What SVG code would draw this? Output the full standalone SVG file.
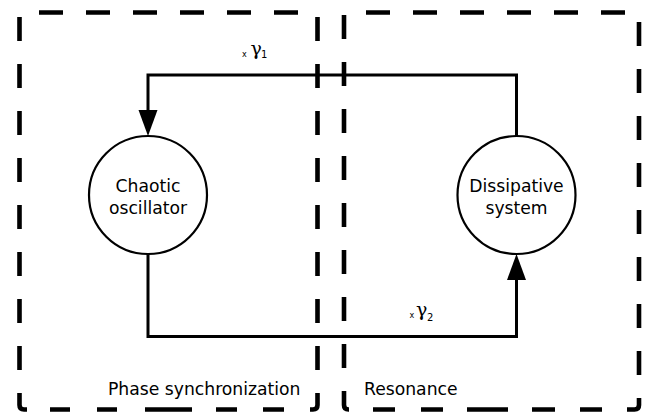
<svg xmlns="http://www.w3.org/2000/svg" width="645" height="417" viewBox="0 0 645 417">
<defs>
<style>
.box{fill:none;stroke:#000;stroke-width:4.6;stroke-linecap:butt}
.dh{stroke-dasharray:24 23}
.wire{fill:none;stroke:#000;stroke-width:3}
.node{fill:#fff;stroke:#000;stroke-width:2.2}
.lbl{font-family:"DejaVu Sans",sans-serif;font-size:17.2px;fill:#000}
.ctr{text-anchor:middle}
.g{font-family:"DejaVu Serif",serif;font-size:19px;fill:#000}
.sub{font-family:"DejaVu Sans",sans-serif;font-size:10px;fill:#000}
.x{font-family:"DejaVu Sans",sans-serif;font-size:8px;fill:#000}
</style>
</defs>
<rect width="645" height="417" fill="#fff"/>
<g id="region-phase-synchronization">
<line class="box dh" x1="19.5" y1="12.5" x2="318" y2="12.5" stroke-dashoffset="27.5"/>
<line class="box dh" x1="19.5" y1="12.5" x2="19.5" y2="393" stroke-dashoffset="42.5"/>
<line class="box dh" x1="317.5" y1="12.5" x2="317.5" y2="393" stroke-dashoffset="42.5"/>
<path class="box" d="M19.5,393 V405 Q19.5,409.5 24,409.5 H27"/>
<path class="box" d="M50,409.5 H70 M97,409.5 H117 M145,409.5 H192 M216,409.5 H237 M263,409.5 H284"/>
<path class="box" d="M310,409.5 H313 Q317.5,409.5 317.5,405 V393"/>
<text class="lbl" x="108" y="395">Phase synchronization</text>
</g>
<g id="region-resonance">
<line class="box dh" x1="344" y1="12.5" x2="639" y2="12.5" stroke-dashoffset="25"/>
<line class="box dh" x1="344" y1="12.5" x2="344" y2="391" stroke-dashoffset="44.5"/>
<line class="box dh" x1="639" y1="12.5" x2="639" y2="398" stroke-dashoffset="37.5"/>
<path class="box" d="M344,391 V405 Q344,409.5 348.5,409.5 H349"/>
<path class="box" d="M373,409.5 H395 M421,409.5 H443 M467,409.5 H508 M532,409.5 H555 M580,409.5 H602"/>
<path class="box" d="M627,409.5 H634.5 Q639,409.5 639,405 V398"/>
<text class="lbl" x="364" y="395">Resonance</text>
</g>
<g id="connectors">
<path class="wire" d="M516.5,136 V75 H148 V112"/>
<polygon points="148,136 138.5,110 157.5,110" fill="#000"/>
<path class="wire" d="M148,254 V336.5 H516.5 V278"/>
<polygon points="516.5,254 507,280 526,280" fill="#000"/>
<g id="label-gamma1">
<text class="x" x="242" y="56.5">x</text>
<text class="g" x="250.5" y="55">γ</text>
<text class="sub" x="261" y="57.5">1</text>
</g>
<g id="label-gamma2">
<text class="x" x="409.5" y="317.5">x</text>
<text class="g" x="416" y="316">γ</text>
<text class="sub" x="427" y="320.5">2</text>
</g>
</g>
<g id="node-chaotic-oscillator">
<circle class="node" cx="148" cy="195" r="59"/>
<text class="lbl ctr" x="148" y="192">Chaotic</text>
<text class="lbl ctr" x="148" y="213.5">oscillator</text>
</g>
<g id="node-dissipative-system">
<circle class="node" cx="516.5" cy="195" r="59"/>
<text class="lbl ctr" x="516.5" y="192">Dissipative</text>
<text class="lbl ctr" x="516.5" y="213.5">system</text>
</g>
</svg>
